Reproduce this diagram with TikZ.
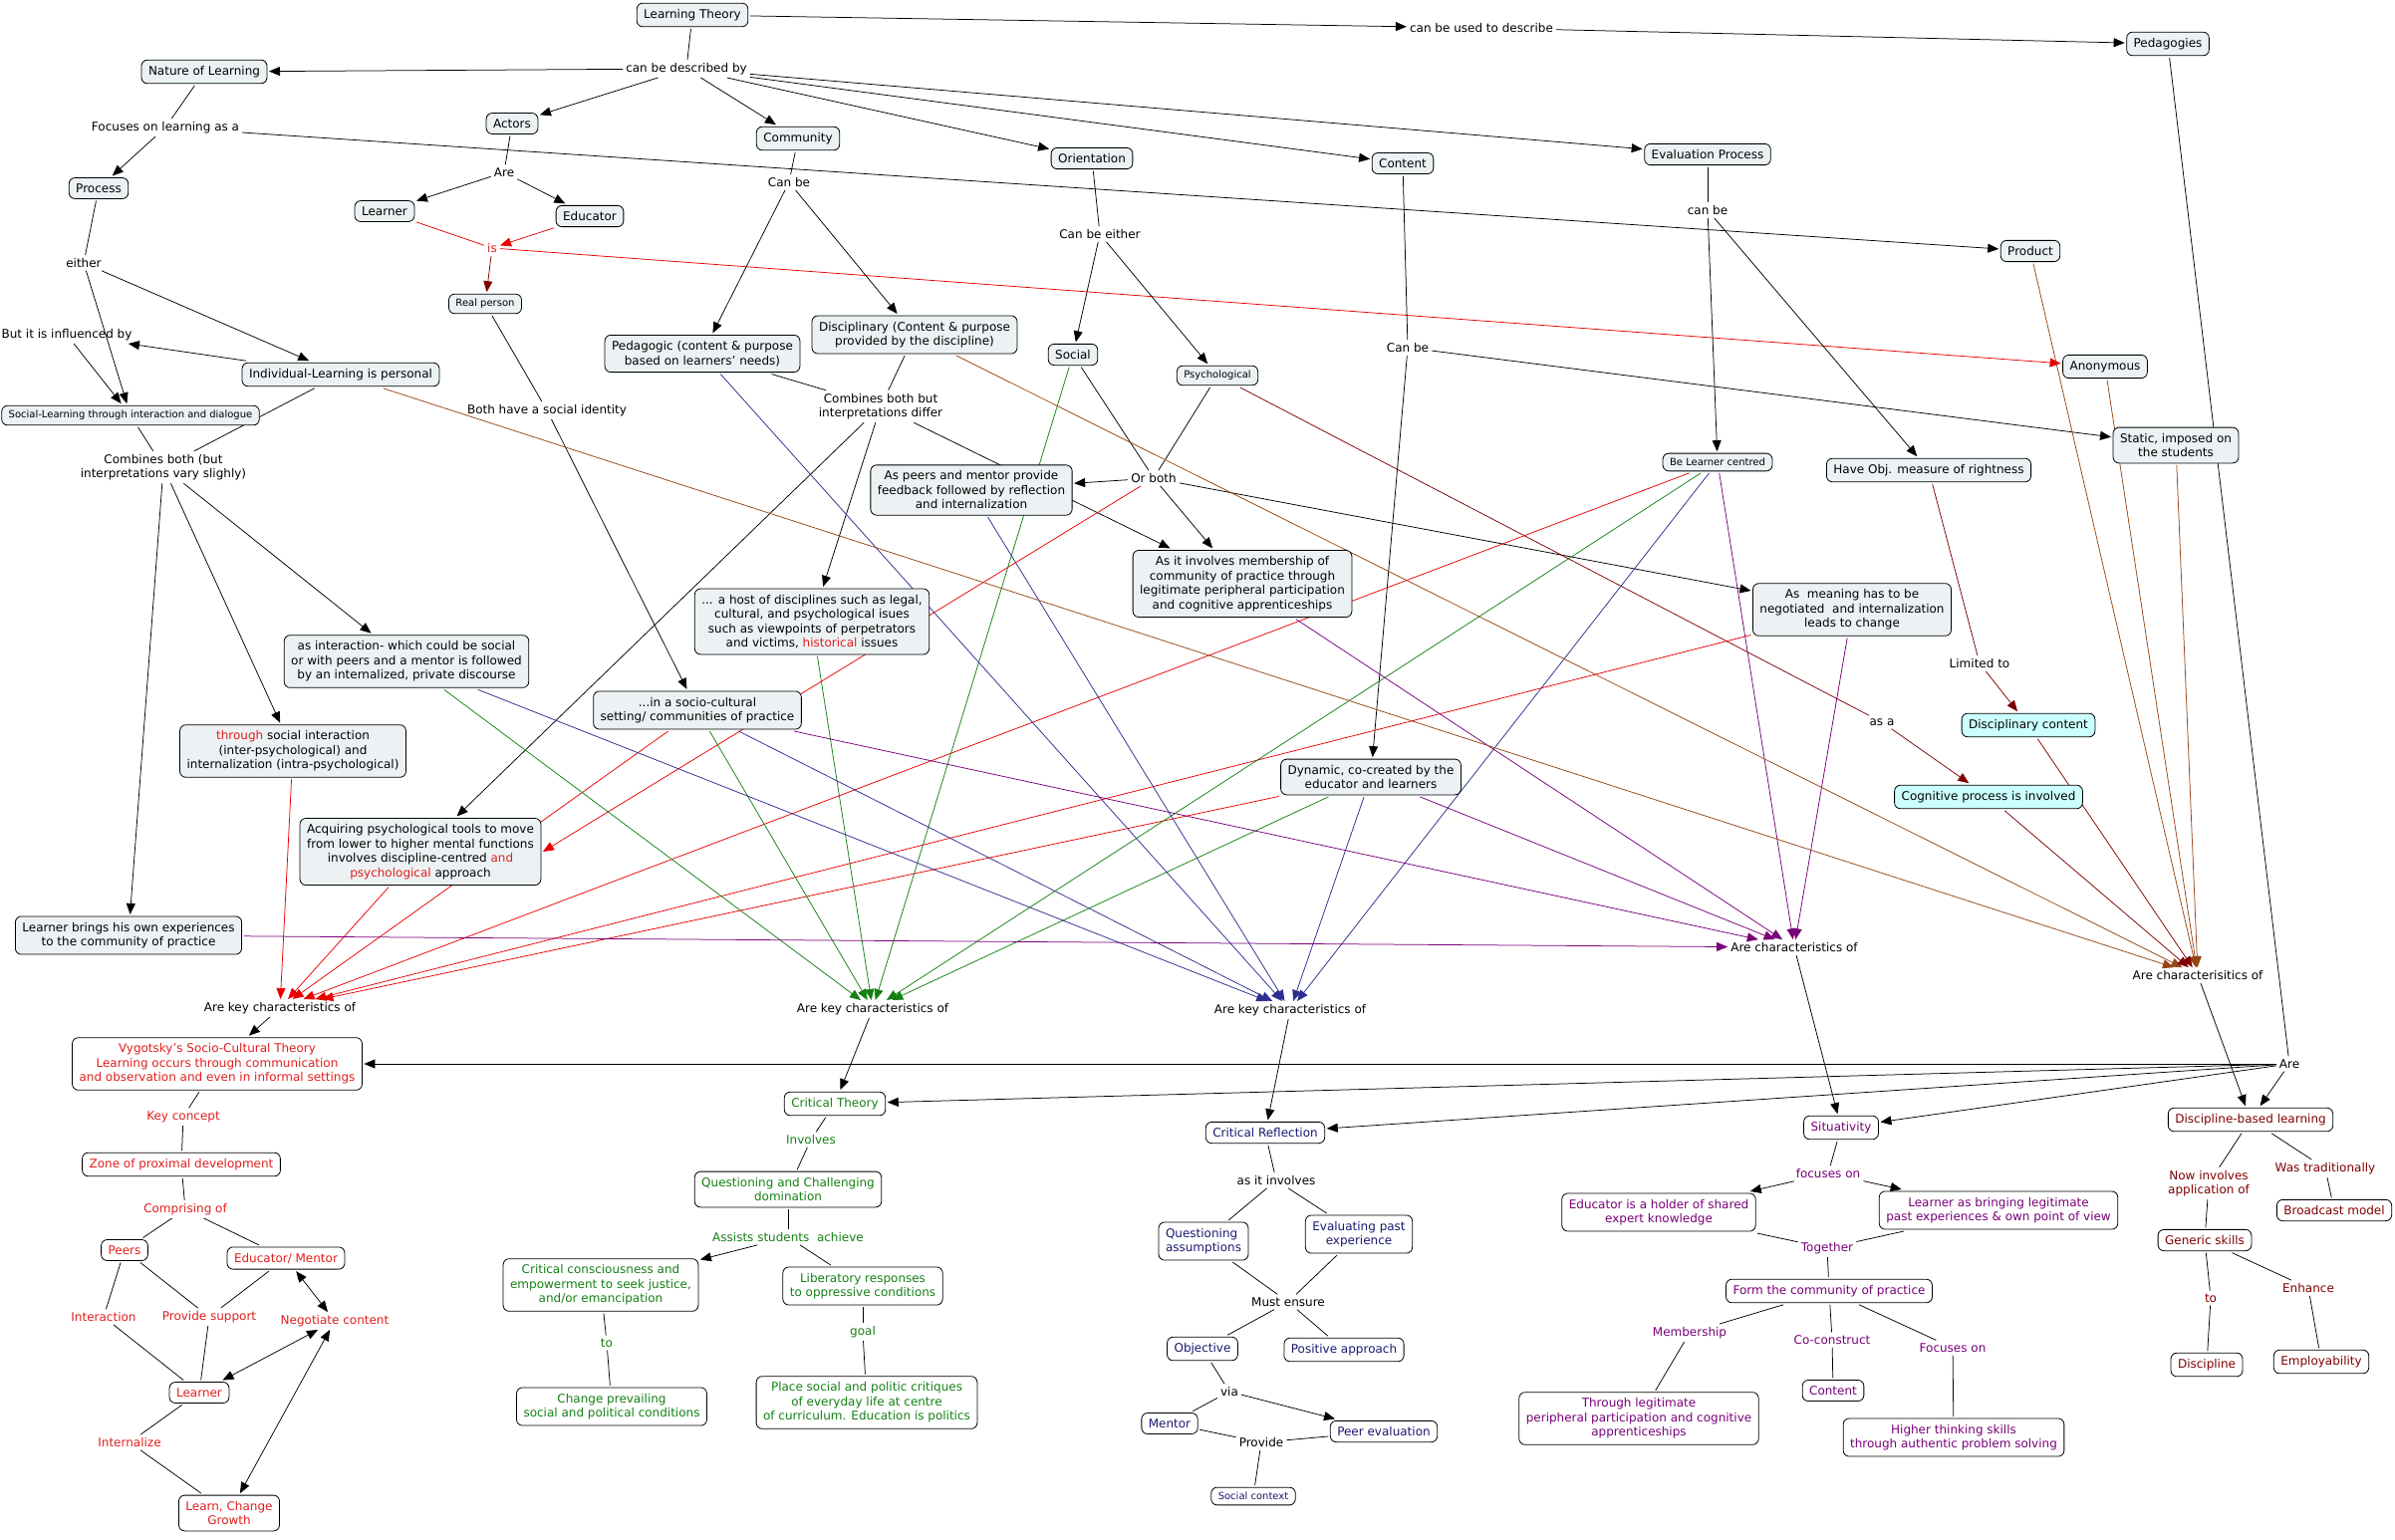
\documentclass[tikz,border=0pt]{standalone}
\usepackage{fontspec}
\setmainfont{DejaVu Sans}
\usepackage{tikz}
\usetikzlibrary{arrows.meta, backgrounds}

\definecolor{cbg}{RGB}{236,242,244}
\definecolor{ccyan}{RGB}{204,255,255}
\definecolor{cred}{RGB}{225,30,30}
\definecolor{clred}{RGB}{235,0,0}
\definecolor{cgreen}{RGB}{20,128,20}
\definecolor{cblue}{RGB}{45,45,145}
\definecolor{cnavy}{RGB}{25,25,112}
\definecolor{cpurple}{RGB}{120,0,120}
\definecolor{cbrown}{RGB}{150,70,20}
\definecolor{cmaroon}{RGB}{128,0,0}

\newcommand{\fmain}{\fontsize{12}{14.5}\selectfont}
\newcommand{\fsmall}{\fontsize{10}{12}\selectfont}
\newcommand{\hl}[1]{\textcolor{cred}{#1}}

\tikzset{
  concept/.style={draw, line width=0.8pt, rounded corners=6pt, fill=cbg, align=center,
    font=\fmain, inner xsep=7pt, inner ysep=6pt, outer sep=2pt},
  smallconcept/.style={concept, font=\fsmall, inner ysep=5pt},
  phrase/.style={font=\fmain, align=center, inner sep=3pt},
  link/.style={line width=0.75pt},
  arrowlink/.style={link, -{Triangle[length=11pt,width=9pt]}},
  bothlink/.style={link, {Triangle[length=11pt,width=9pt]}-{Triangle[length=11pt,width=9pt]}},
  vyconcept/.style={concept, fill=white, text=cred},
  vyphrase/.style={phrase, text=cred},
  ctconcept/.style={concept, fill=white, text=cgreen},
  ctphrase/.style={phrase, text=cgreen},
  crconcept/.style={concept, fill=white, text=cnavy},
  siconcept/.style={concept, fill=white, text=cpurple},
  siphrase/.style={phrase, text=cpurple},
  dbconcept/.style={concept, fill=white, text=cmaroon},
  dbphrase/.style={phrase, text=cmaroon},
}

\begin{document}
\begin{tikzpicture}[x=1pt, y=-1pt]
\useasboundingbox (0,0) rectangle (2404,1545);

% upper part of the map
\node[concept] (lt) at (695,15) {Learning Theory};
\node[phrase] (desc) at (689,69) {can be described by};
\node[phrase] (usedto) at (1487,28) {can be used to describe};
\node[concept] (pedagog) at (2176,44) {Pedagogies};
\node[concept] (nature) at (205,72) {Nature of Learning};
\node[concept] (actors) at (514,124) {Actors};
\node[concept] (community) at (801,139) {Community};
\node[concept] (orient) at (1096,159) {Orientation};
\node[concept] (content) at (1408,164) {Content};
\node[concept] (evalp) at (1714,155) {Evaluation Process};
\node[phrase] (focus) at (166,128) {Focuses on learning as a};
\node[concept] (process) at (99,189) {Process};
\node[phrase] (are1) at (506,173) {Are};
\node[concept] (learner) at (386,212) {Learner};
\node[concept] (educator) at (592,217) {Educator};
\node[phrase, text=cred] (is) at (494,249) {is};
\node[smallconcept] (realp) at (487,305) {Real person};
\node[phrase] (canbe1) at (792,183) {Can be};
\node[phrase] (either2) at (1104,235) {Can be either};
\node[phrase] (canbe3) at (1714,211) {can be};
\node[phrase] (canbe2) at (1413,349) {Can be};
\node[concept] (product) at (2038,252) {Product};
\node[phrase] (either) at (84,264) {either};
\node[phrase] (influenced) at (67,336) {But it is influenced by};
\node[concept] (indiv) at (342,376) {Individual-Learning is personal};
\node[smallconcept] (social) at (131,417) {Social-Learning through interaction and dialogue};
\node[phrase] (combines) at (164,469) {Combines both (but\\interpretations vary slighly)};
\node[phrase] (identity) at (549,412) {Both have a social identity};
\node[concept] (pedagogic) at (705,355) {Pedagogic (content \& purpose\\based on learners' needs)};
\node[concept] (discipl) at (918,336) {Disciplinary (Content \& purpose\\provided by the discipline)};
\node[concept] (socialo) at (1077,356) {Social};
\node[smallconcept] (psycho) at (1222,377) {Psychological};
\node[concept] (anon) at (2113,368) {Anonymous};
\node[concept] (static) at (2184,447) {Static, imposed on\\the students};
\node[smallconcept] (centred) at (1724,464) {Be Learner centred};
\node[concept] (rightness) at (1936,472) {Have Obj. measure of rightness};
\node[phrase] (differ) at (884,408) {Combines both but\\interpretations differ};
\node[phrase] (orboth) at (1158,480) {Or both};
\node[concept] (feedback) at (975,492) {As peers and mentor provide\\feedback followed by reflection\\and internalization};
\node[concept] (membership) at (1247,586) {As it involves membership of\\community of practice through\\legitimate peripheral participation\\and cognitive apprenticeships};
\node[concept] (meaning) at (1859,612) {As\ \ meaning has to be\\negotiated\ \ and internalization\\leads to change};
\node[concept] (host) at (815,624) {... a host of disciplines such as legal,\\cultural, and psychological isues\\such as viewpoints of perpetrators\\and victims, \hl{historical} issues};
\node[concept] (interaction) at (408,664) {as interaction- which could be social\\or with peers and a mentor is followed\\by an internalized, private discourse};
\node[concept] (setting) at (700,713) {...in a socio-cultural\\setting/ communities of practice};
\node[phrase] (limited) at (1987,666) {Limited to};
\node[phrase] (asa) at (1889,725) {as a};
\node[concept, fill=ccyan] (disccontent) at (2036,728) {Disciplinary content};
\node[concept, fill=ccyan] (cognitive) at (1996,800) {Cognitive process is involved};
\node[concept] (through) at (294,754) {\hl{through} social interaction\\(inter-psychological) and\\internalization (intra-psychological)};
\node[concept] (dynamic) at (1376,780) {Dynamic, co-created by the\\educator and learners};
\node[concept] (tools) at (422,855) {Acquiring psychological tools to move\\from lower to higher mental functions\\involves discipline-centred \hl{and}\\\hl{psychological} approach};
\node[concept] (brings) at (129,939) {Learner brings his own experiences\\to the community of practice};
\node[phrase] (keyred) at (281,1012) {Are key characteristics of};
\node[phrase] (keygreen) at (876,1013) {Are key characteristics of};
\node[phrase] (keyblue) at (1295,1014) {Are key characteristics of};
\node[phrase] (charpurple) at (1801,951) {Are characteristics of};
\node[phrase] (charbrown) at (2206,979) {Are characterisitics of};
\node[phrase] (are) at (2298,1068) {Are};

% Vygotsky
\node[vyconcept] (vygotsky) at (218,1068) {Vygotsky's Socio-Cultural Theory\\Learning occurs through communication\\and observation and even in informal settings};
\node[vyphrase] (keyconcept) at (184,1121) {Key concept};
\node[vyconcept] (zpd) at (182,1169) {Zone of proximal development};
\node[vyphrase] (comprising) at (186,1214) {Comprising of};
\node[vyconcept] (peers) at (125,1255) {Peers};
\node[vyconcept] (mentorv) at (287,1263) {Educator/ Mentor};
\node[vyphrase] (interact) at (104,1322) {Interaction};
\node[vyphrase] (support) at (210,1322) {Provide support};
\node[vyphrase] (negotiate) at (336,1326) {Negotiate content};
\node[vyconcept] (learnerv) at (200,1398) {Learner};
\node[vyphrase] (internalize) at (130,1448) {Internalize};
\node[vyconcept] (growth) at (230,1519) {Learn, Change\\Growth};

% Critical theory
\node[ctconcept] (crittheory) at (838,1108) {Critical Theory};
\node[ctphrase] (involves) at (814,1144) {Involves};
\node[ctconcept] (questioning) at (791,1194) {Questioning and Challenging\\domination};
\node[ctphrase] (assists) at (791,1242) {Assists students\ \ achieve};
\node[ctconcept] (conscious) at (603,1290) {Critical consciousness and\\empowerment to seek justice,\\and/or emancipation};
\node[ctconcept] (liberatory) at (866,1291) {Liberatory responses\\to oppressive conditions};
\node[ctphrase] (to) at (609,1348) {to};
\node[ctphrase] (goal) at (866,1337) {goal};
\node[ctconcept] (prevailing) at (614,1412) {Change prevailing\\social and political conditions};
\node[ctconcept] (critiques) at (870,1408) {Place social and politic critiques\\of everyday life at centre\\of curriculum. Education is politics};

% Critical reflection
\node[crconcept] (critrefl) at (1270,1137) {Critical Reflection};
\node[phrase] (asinvolves) at (1281,1185) {as it involves};
\node[crconcept, align=left] (assumptions) at (1208,1246) {Questioning\\assumptions};
\node[crconcept] (pastexp) at (1364,1239) {Evaluating past\\experience};
\node[phrase] (ensure) at (1293,1307) {Must ensure};
\node[crconcept] (objective) at (1207,1354) {Objective};
\node[crconcept] (positive) at (1349,1355) {Positive approach};
\node[phrase] (via) at (1234,1397) {via};
\node[crconcept] (mentor) at (1174,1429) {Mentor};
\node[crconcept] (peereval) at (1389,1437) {Peer evaluation};
\node[phrase] (provide) at (1266,1448) {Provide};
\node[crconcept, font=\fsmall, inner ysep=5pt] (context) at (1258,1502) {Social context};

% Situativity
\node[siconcept] (situativity) at (1848,1132) {Situativity};
\node[siphrase] (focuseson) at (1835,1178) {focuses on};
\node[siconcept] (holder) at (1665,1217) {Educator is a holder of shared\\expert knowledge};
\node[siconcept] (bringing) at (2006,1215) {Learner as bringing legitimate\\past experiences \& own point of view};
\node[siphrase] (together) at (1834,1253) {Together};
\node[siconcept] (formcop) at (1836,1296) {Form the community of practice};
\node[siphrase] (memb) at (1696,1338) {Membership};
\node[siphrase] (coconstruct) at (1839,1345) {Co-construct};
\node[siphrase] (focuses2) at (1960,1353) {Focuses on};
\node[siconcept] (legitimate) at (1645,1424) {Through legitimate\\peripheral participation and cognitive\\apprenticeships};
\node[siconcept] (contentsi) at (1840,1396) {Content};
\node[siconcept] (higher) at (1961,1443) {Higher thinking skills\\through authentic problem solving};

% Discipline-based learning
\node[dbconcept] (dbl) at (2259,1124) {Discipline-based learning};
\node[dbphrase] (nowinv) at (2217,1188) {Now involves\\application of};
\node[dbphrase] (tradit) at (2334,1173) {Was traditionally};
\node[dbconcept] (broadcast) at (2343,1215) {Broadcast model};
\node[dbconcept] (generic) at (2213,1245) {Generic skills};
\node[dbphrase] (todb) at (2219,1303) {to};
\node[dbphrase] (enhance) at (2317,1293) {Enhance};
\node[dbconcept] (discipline) at (2215,1370) {Discipline};
\node[dbconcept] (employ) at (2330,1367) {Employability};

\begin{pgfonlayer}{background}
\fill[white] (0,0) rectangle (2404,1545);

\draw[link] (lt) -- (desc);
\foreach \t in {nature, actors, community, orient, content, evalp}
  \draw[arrowlink] (desc) -- (\t);
\draw[arrowlink] (lt) -- (usedto);
\draw[arrowlink] (usedto) -- (pedagog);

\draw[link] (nature) -- (focus);
\draw[arrowlink] (focus) -- (process);
\draw[arrowlink] (focus) -- (product);
\draw[link] (process) -- (either);
\draw[arrowlink] (either) -- (social);
\draw[arrowlink] (either) -- (indiv);
\draw[arrowlink] (indiv) -- (influenced);
\draw[arrowlink] (influenced) -- (social);
\draw[link] (social) -- (combines);
\draw[link] (indiv) -- (combines);
\draw[arrowlink] (combines) -- (brings);
\draw[arrowlink] (combines) -- (through);
\draw[arrowlink] (combines) -- (interaction);

\draw[link] (actors) -- (are1);
\draw[arrowlink] (are1) -- (learner);
\draw[arrowlink] (are1) -- (educator);
\draw[link, clred] (learner) -- (is);
\draw[arrowlink, clred] (educator) -- (is);
\draw[arrowlink, cmaroon] (is) -- (realp);
\draw[arrowlink, clred] (is) -- (anon);
\draw[link] (realp) -- (identity);
\draw[arrowlink] (identity) -- (setting);

\draw[link] (community) -- (canbe1);
\draw[arrowlink] (canbe1) -- (pedagogic);
\draw[arrowlink] (canbe1) -- (discipl);
\draw[link] (pedagogic) -- (differ);
\draw[link] (discipl) -- (differ);
\draw[arrowlink] (differ) -- (host);
\draw[arrowlink] (differ) -- (tools);
\draw[arrowlink] (differ) -- (membership);

\draw[link] (orient) -- (either2);
\draw[arrowlink] (either2) -- (socialo);
\draw[arrowlink] (either2) -- (psycho);
\draw[link] (socialo) -- (orboth);
\draw[link] (psycho) -- (orboth);
\draw[arrowlink] (orboth) -- (feedback);
\draw[arrowlink] (orboth) -- (membership);
\draw[arrowlink] (orboth) -- (meaning);
\draw[arrowlink, clred] (orboth) -- (tools.east);
\draw[link, cmaroon] (psycho) -- (asa);
\draw[arrowlink, cmaroon] (asa) -- (cognitive);

\draw[link] (content) -- (canbe2);
\draw[arrowlink] (canbe2) -- (dynamic);
\draw[arrowlink] (canbe2) -- (static);
\draw[link] (evalp) -- (canbe3);
\draw[arrowlink] (canbe3) -- (centred);
\draw[arrowlink] (canbe3) -- (rightness);
\draw[link, cmaroon] (rightness) -- (limited);
\draw[arrowlink, cmaroon] (limited) -- (disccontent);

% the five groups of characteristics
\foreach \s in {through, tools, setting, centred, meaning, dynamic}
  \draw[arrowlink, clred] (\s) -- (keyred);
\foreach \s in {interaction, setting, host, socialo, centred, dynamic}
  \draw[arrowlink, cgreen] (\s) -- (keygreen);
\foreach \s in {interaction, pedagogic, setting, feedback, dynamic, centred}
  \draw[arrowlink, cblue] (\s) -- (keyblue);
\foreach \s in {brings, setting, dynamic, membership, centred, meaning}
  \draw[arrowlink, cpurple] (\s) -- (charpurple);
\foreach \s in {indiv, discipl, product, anon, static}
  \draw[arrowlink, cbrown] (\s) -- (charbrown);
\draw[arrowlink, cmaroon] (cognitive) -- (charbrown);
\draw[arrowlink, cmaroon] (disccontent) -- (charbrown);

\draw[arrowlink] (keyred) -- (vygotsky);
\draw[arrowlink] (keygreen) -- (crittheory);
\draw[arrowlink] (keyblue) -- (critrefl);
\draw[arrowlink] (charpurple) -- (situativity);
\draw[arrowlink] (charbrown) -- (dbl);
\draw[link] (pedagog) -- (are);
\foreach \t in {vygotsky, crittheory, critrefl, situativity, dbl}
  \draw[arrowlink] (are) -- (\t);

% Vygotsky branch
\draw[link] (vygotsky) -- (keyconcept);
\draw[link] (keyconcept) -- (zpd);
\draw[link] (zpd) -- (comprising);
\draw[link] (comprising) -- (peers);
\draw[link] (comprising) -- (mentorv);
\draw[link] (peers) -- (interact);
\draw[link] (interact) -- (learnerv);
\draw[link] (peers) -- (support);
\draw[link] (mentorv) -- (support);
\draw[link] (support) -- (learnerv);
\draw[bothlink] (mentorv) -- (negotiate);
\draw[bothlink] (learnerv) -- (negotiate);
\draw[bothlink] (growth) -- (negotiate);
\draw[link] (learnerv) -- (internalize);
\draw[link] (internalize) -- (growth);

% Critical theory branch
\draw[link] (crittheory) -- (involves);
\draw[link] (involves) -- (questioning);
\draw[link] (questioning) -- (assists);
\draw[arrowlink] (assists) -- (conscious);
\draw[link] (assists) -- (liberatory);
\draw[link] (conscious) -- (to);
\draw[link] (to) -- (prevailing);
\draw[link] (liberatory) -- (goal);
\draw[link] (goal) -- (critiques);

% Critical reflection branch
\draw[link] (critrefl) -- (asinvolves);
\draw[link] (asinvolves) -- (assumptions);
\draw[link] (asinvolves) -- (pastexp);
\draw[link] (assumptions) -- (ensure);
\draw[link] (pastexp) -- (ensure);
\draw[link] (ensure) -- (objective);
\draw[link] (ensure) -- (positive);
\draw[link] (objective) -- (via);
\draw[link] (via) -- (mentor);
\draw[arrowlink] (via) -- (peereval);
\draw[link] (mentor) -- (provide);
\draw[link] (provide) -- (peereval);
\draw[link] (provide) -- (context);

% Situativity branch
\draw[link] (situativity) -- (focuseson);
\draw[arrowlink] (focuseson) -- (holder);
\draw[arrowlink] (focuseson) -- (bringing);
\draw[link] (holder) -- (together);
\draw[link] (bringing) -- (together);
\draw[link] (together) -- (formcop);
\draw[link] (formcop) -- (memb);
\draw[link] (memb) -- (legitimate);
\draw[link] (formcop) -- (coconstruct);
\draw[link] (coconstruct) -- (contentsi);
\draw[link] (formcop) -- (focuses2);
\draw[link] (focuses2) -- (higher);

% Discipline-based branch
\draw[link] (dbl) -- (nowinv);
\draw[link] (nowinv) -- (generic);
\draw[link] (dbl) -- (tradit);
\draw[link] (tradit) -- (broadcast);
\draw[link] (generic) -- (todb);
\draw[link] (todb) -- (discipline);
\draw[link] (generic) -- (enhance);
\draw[link] (enhance) -- (employ);
\end{pgfonlayer}
\end{tikzpicture}
\end{document}
